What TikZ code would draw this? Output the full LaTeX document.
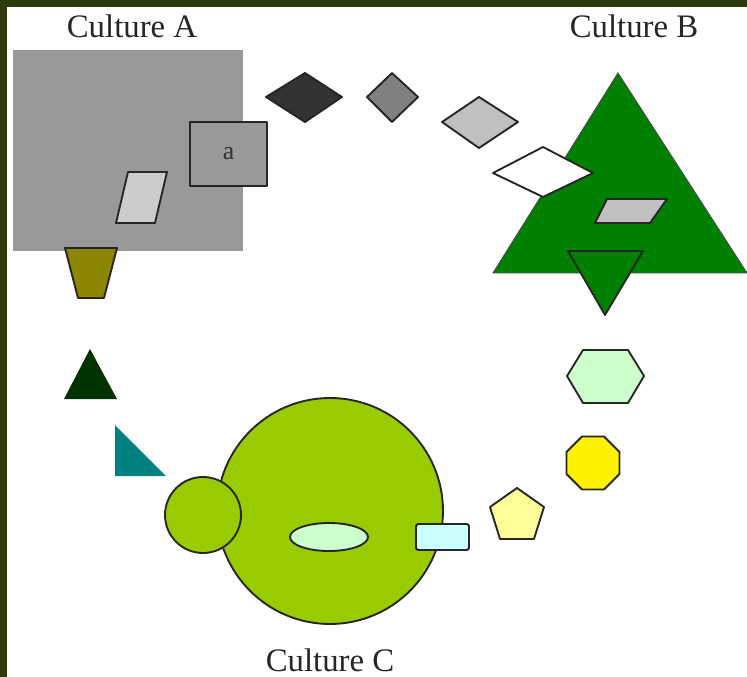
\documentclass[tikz,border=0pt]{standalone}
\usepackage{fontspec}
\setmainfont{Liberation Serif}
\definecolor{frameolive}{RGB}{46,58,10}
\definecolor{lime}{HTML}{99CC00}
\definecolor{palegreen}{HTML}{CCFFCC}
\definecolor{palecyan}{HTML}{CCFFFF}
\definecolor{paleyellow}{HTML}{FFFF99}
\definecolor{darkgreen}{HTML}{003300}
\definecolor{treegreen}{HTML}{008000}
\tikzset{
  shapeline/.style={draw=black!85, line width=1.6pt, line join=round},
  culture/.style={font=\fontsize{28}{30}\selectfont, text=black!85}
}
\begin{document}
\begin{tikzpicture}[x=0.03cm, y=-0.03cm]
  \useasboundingbox (0,0) rectangle (747,677);
  % Frame
  \fill[white] (0,0) rectangle (747,677);
  \fill[frameolive] (0,0) rectangle (747,7);
  \fill[frameolive] (0,0) rectangle (7,677);
  % Culture A (top left)
  \node[culture] (cultA) at (132,26) {Culture A};
  \fill[fill={rgb,255:red,153;green,153;blue,153}] (13,50) rectangle (243,251);
  \node[shapeline, fill={rgb,255:red,153;green,153;blue,153}, minimum width=2.31cm, minimum height=1.92cm,
        font=\fontsize{22}{24}\selectfont, text=black!80] (boxa) at (228.5,154) {a};
  \filldraw[shapeline, fill={rgb,255:red,204;green,204;blue,204}] (128,172) -- (167,172) -- (155,223) -- (116,223) -- cycle;
  \filldraw[shapeline, fill=olive] (65,248) -- (117,248) -- (104,298) -- (78,298) -- cycle;
  % Path of shapes towards Culture C (left)
  \fill[darkgreen] (90,349) -- (117,399) -- (64,399) -- cycle;
  \fill[teal] (115,425) -- (166,476) -- (115,476) -- cycle;
  % Culture C (bottom)
  \filldraw[shapeline, fill=lime] (330,511) circle (113);
  \filldraw[shapeline, fill=lime] (203,515) circle (38);
  \filldraw[shapeline, fill=palegreen] (329,537) ellipse (39 and 14);
  \filldraw[shapeline, fill=palecyan, rounded corners=2pt] (416,524) rectangle (469,550);
  \node[culture] (cultC) at (330,660) {Culture C};
  % Path of shapes towards Culture B (right)
  \filldraw[shapeline, fill=paleyellow] (517,488) -- (544,507) -- (534,539) -- (500,539) -- (490,507) -- cycle;
  \filldraw[shapeline, fill=yellow] (619.5,452) -- (604,436.5) -- (582,436.5) -- (566.5,452)
        -- (566.5,474) -- (582,489.5) -- (604,489.5) -- (619.5,474) -- cycle;
  \filldraw[shapeline, fill=palegreen] (567,376) -- (583,350) -- (628,350) -- (644,376) -- (628,403) -- (583,403) -- cycle;
  % Culture B (top right)
  \node[culture] (cultB) at (634,26) {Culture B};
  \filldraw[draw=black!70, line width=0.8pt, fill=treegreen] (618,73) -- (747,273) -- (493,273) -- cycle;
  \filldraw[shapeline, fill={rgb,255:red,192;green,192;blue,192}] (607,199) -- (667,199) -- (650,223) -- (595,223) -- cycle;
  \filldraw[shapeline, fill=treegreen] (568,251) -- (643,251) -- (605,315) -- cycle;
  % Diamonds from Culture A to Culture B
  \filldraw[shapeline, fill={rgb,255:red,51;green,51;blue,51}] (266,97) -- (305,73) -- (342,97) -- (305,122) -- cycle;
  \filldraw[shapeline, fill=gray] (367,97) -- (392,73) -- (418,97) -- (392,122) -- cycle;
  \filldraw[shapeline, fill={rgb,255:red,192;green,192;blue,192}] (442,122) -- (479,97) -- (518,122) -- (479,148) -- cycle;
  \filldraw[shapeline, fill=white] (493,173) -- (543,147) -- (593,173) -- (543,197) -- cycle;
\end{tikzpicture}
\end{document}
